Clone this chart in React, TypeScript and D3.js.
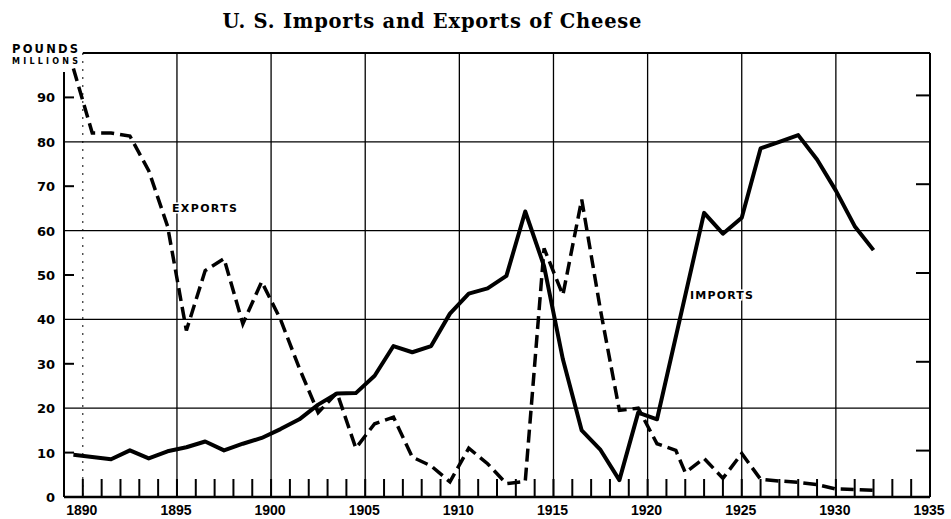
import React, { useEffect, useRef } from "react";
import * as d3 from "d3";

// period midpoints (fiscal years plotted mid-year, calendar years from 1923)
const importYears = [
  1889.5, 1890.5, 1891.5, 1892.5, 1893.5, 1894.5, 1895.5, 1896.5, 1897.5, 1898.5,
  1899.5, 1900.5, 1901.5, 1902.5, 1903.5, 1904.5, 1905.5, 1906.5, 1907.5, 1908.5,
  1909.5, 1910.5, 1911.5, 1912.5, 1913.5, 1914.5, 1915.5, 1916.5, 1917.5, 1918.5,
  1919.5, 1920.5, 1923, 1924, 1925, 1926, 1927, 1928, 1929, 1930, 1931, 1932,
];
const importValues = [
  9.5, 9, 8.5, 10.5, 8.7, 10.3, 11.2, 12.5, 10.5, 12,
  13.3, 15.3, 17.5, 20.8, 23.3, 23.4, 27.3, 34, 32.6, 34,
  41.3, 45.8, 47, 49.8, 64.3, 52, 31, 15, 10.6, 3.8,
  19, 17.5, 64, 59.3, 62.9, 78.5, 80, 81.5, 76, 69, 61, 55.6,
];

const exportYears = [
  1889.5, 1890.5, 1891.5, 1892.5, 1893.5, 1894.5, 1895.5, 1896.5, 1897.5, 1898.5,
  1899.5, 1900.5, 1901.5, 1902.5, 1903.5, 1904.5, 1905.5, 1906.5, 1907.5, 1908.5,
  1909.5, 1910.5, 1911.5, 1912.5, 1913.5, 1914.5, 1915.5, 1916.5, 1917.5, 1918.5,
  1919.5, 1920.5, 1921.5, 1922, 1923, 1924, 1925, 1926, 1927, 1928, 1929, 1930,
  1931, 1932,
];
const exportValues = [
  96.5, 82, 82, 81.3, 73.5, 61, 37.5, 51, 53.7, 39,
  48.5, 40, 29, 19, 23.5, 11, 16.5, 18, 9, 7,
  3.4, 11, 7.5, 3, 3.5, 56, 45.5, 67, 42, 19.5,
  20, 12, 10.5, 5.5, 8.7, 4.2, 9.8, 4, 3.6, 3.3, 2.8, 1.8,
  1.7, 1.5,
];

const xLabelYears = [1890, 1895, 1900, 1905, 1910, 1915, 1920, 1925, 1930, 1935];
const yLabelValues = [0, 10, 20, 30, 40, 50, 60, 70, 80, 90];
const gridValues = [20, 40, 60, 80];
const sideTickValues = [10, 30, 50, 70, 90];

const W = 951;
const H = 519;

const App = () => {
  const svgRef = useRef<SVGSVGElement>(null);

  useEffect(() => {
    const svg = d3.select(svgRef.current);
    svg.selectAll("*").remove();

    const left = 64;
    const right = 930;
    const top = 53;
    const bottom = 497;

    const x = d3.scaleLinear().domain([1889, 1935]).range([left, right]);
    const y = d3.scaleLinear().domain([0, 100]).range([bottom, top]);

    svg.append("rect").attr("width", W).attr("height", H).attr("fill", "#fff");

    // title
    svg.append("text")
      .attr("x", 432)
      .attr("y", 28)
      .attr("text-anchor", "middle")
      .attr("font-family", "DejaVu Serif")
      .attr("font-weight", "bold")
      .attr("font-size", 19.5)
      .attr("textLength", 419)
      .text("U. S. Imports and Exports of Cheese");

    // vertical grid
    const vYears = d3.range(1895, 1935, 5);
    svg.append("g")
      .selectAll("line")
      .data(vYears)
      .join("line")
      .attr("x1", (d) => x(d))
      .attr("x2", (d) => x(d))
      .attr("y1", top)
      .attr("y2", bottom)
      .attr("stroke", "#000")
      .attr("stroke-width", 1.3);

    svg.append("line")
      .attr("x1", x(1890)).attr("x2", x(1890))
      .attr("y1", top).attr("y2", bottom)
      .attr("stroke", "#000")
      .attr("stroke-width", 1)
      .attr("stroke-dasharray", "2 6");

    // horizontal grid
    svg.append("g")
      .selectAll("line")
      .data(gridValues)
      .join("line")
      .attr("x1", left)
      .attr("x2", right)
      .attr("y1", (d) => y(d))
      .attr("y2", (d) => y(d))
      .attr("stroke", "#000")
      .attr("stroke-width", 1.3);

    // frame
    svg.append("line").attr("x1", x(1890)).attr("x2", right).attr("y1", top).attr("y2", top)
      .attr("stroke", "#000").attr("stroke-width", 2);
    svg.append("line").attr("x1", right).attr("x2", right).attr("y1", top).attr("y2", bottom)
      .attr("stroke", "#000").attr("stroke-width", 2);
    svg.append("line").attr("x1", left).attr("x2", left).attr("y1", 72).attr("y2", bottom)
      .attr("stroke", "#000").attr("stroke-width", 2);
    svg.append("line").attr("x1", left).attr("x2", right).attr("y1", bottom).attr("y2", bottom)
      .attr("stroke", "#000").attr("stroke-width", 2.5);

    // year ticks along the bottom
    svg.append("g")
      .selectAll("line")
      .data(d3.range(1890, 1935))
      .join("line")
      .attr("x1", (d) => x(d))
      .attr("x2", (d) => x(d))
      .attr("y1", bottom)
      .attr("y2", bottom - 18)
      .attr("stroke", "#000")
      .attr("stroke-width", 2);

    // side ticks
    svg.append("g")
      .selectAll("line")
      .data(sideTickValues)
      .join("line")
      .attr("x1", left)
      .attr("x2", left + 10)
      .attr("y1", (d) => y(d))
      .attr("y2", (d) => y(d))
      .attr("stroke", "#000")
      .attr("stroke-width", 2);
    svg.append("g")
      .selectAll("line")
      .data(sideTickValues)
      .join("line")
      .attr("x1", right)
      .attr("x2", right - 14)
      .attr("y1", (d) => y(d) - 2)
      .attr("y2", (d) => y(d) - 2)
      .attr("stroke", "#000")
      .attr("stroke-width", 2);

    // y labels
    svg.append("g")
      .selectAll("text")
      .data(yLabelValues)
      .join("text")
      .attr("x", 55)
      .attr("y", (d) => y(d) + 5)
      .attr("text-anchor", "end")
      .attr("font-family", "DejaVu Sans")
      .attr("font-weight", "bold")
      .attr("font-size", 13)
      .text((d) => d);

    svg.append("text")
      .attr("x", 12).attr("y", 53)
      .attr("font-family", "DejaVu Sans").attr("font-weight", "bold")
      .attr("font-size", 11.5).attr("textLength", 66)
      .text("POUNDS");
    svg.append("text")
      .attr("x", 12).attr("y", 64)
      .attr("font-family", "DejaVu Sans").attr("font-weight", "bold")
      .attr("font-size", 8).attr("textLength", 66)
      .text("MILLIONS");

    // x labels
    svg.append("g")
      .selectAll("text")
      .data(xLabelYears)
      .join("text")
      .attr("x", (d) => x(d) - 1)
      .attr("y", 515)
      .attr("text-anchor", "middle")
      .attr("font-family", "Liberation Sans")
      .attr("font-weight", "bold")
      .attr("font-size", 14)
      .text((d) => d);

    const line = d3
      .line<[number, number]>()
      .x((d) => x(d[0]))
      .y((d) => y(d[1]));

    svg.append("path")
      .datum(d3.zip(exportYears, exportValues) as [number, number][])
      .attr("d", line)
      .attr("fill", "none")
      .attr("stroke", "#000")
      .attr("stroke-width", 3.5)
      .attr("stroke-dasharray", "13 6");

    svg.append("path")
      .datum(d3.zip(importYears, importValues) as [number, number][])
      .attr("d", line)
      .attr("fill", "none")
      .attr("stroke", "#000")
      .attr("stroke-width", 4)
      .attr("stroke-linejoin", "round");

    // series labels
    svg.append("text")
      .attr("x", 172).attr("y", 212)
      .attr("font-family", "DejaVu Sans").attr("font-weight", "bold")
      .attr("font-size", 11).attr("textLength", 65)
      .style("paint-order", "stroke")
      .attr("stroke", "#fff").attr("stroke-width", 3)
      .text("EXPORTS");
    svg.append("text")
      .attr("x", 690).attr("y", 299)
      .attr("font-family", "DejaVu Sans").attr("font-weight", "bold")
      .attr("font-size", 11).attr("textLength", 63)
      .style("paint-order", "stroke")
      .attr("stroke", "#fff").attr("stroke-width", 3)
      .text("IMPORTS");
  }, []);

  return (
    <svg
      ref={svgRef}
      width={W}
      height={H}
      style={{ position: "absolute", left: 0, top: 0, display: "block" }}
    ></svg>
  );
};

export default App;
